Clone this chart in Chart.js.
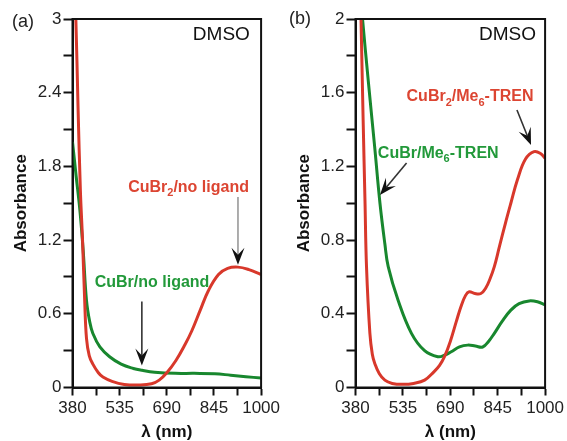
<!DOCTYPE html>
<html>
<head>
<meta charset="utf-8">
<script src="https://cdn.jsdelivr.net/npm/chart.js@4.4.1/dist/chart.umd.min.js"></script>
<style>
body { margin: 0; background: #fff; }
.panel { position: absolute; top: 0; height: 441px; }
#pa { left: 0; width: 283px; }
#pb { left: 283px; width: 284px; }
</style>
</head>
<body>
<div class="panel" id="pa"><canvas id="chartA"></canvas></div>
<div class="panel" id="pb"><canvas id="chartB"></canvas></div>
<script>
// tick labels
const xTicks = [380, 535, 690, 845, 1000];
const yTicksA = [0, 0.6, 1.2, 1.8, 2.4, 3];
const yTicksB = [0, 0.4, 0.8, 1.2, 1.6, 2];

// (a) no ligand
const redA_nm  = [384, 391, 398, 406, 413, 420, 426, 435, 447, 465, 480, 510, 550, 600, 640, 665, 690, 720, 750, 772, 800, 827, 860, 890, 924, 960, 1000];
const redA_abs = [3.4, 3.0, 2.3, 1.6, 1.2, 0.71, 0.40, 0.26, 0.19, 0.12, 0.085, 0.05, 0.025, 0.02, 0.03, 0.06, 0.12, 0.22, 0.35, 0.46, 0.63, 0.79, 0.92, 0.97, 0.98, 0.96, 0.92];
const greenA_nm  = [380, 392, 404, 415, 426, 437, 447, 470, 502, 540, 580, 609, 650, 718, 780, 848, 900, 950, 1000];
const greenA_abs = [2.0, 1.72, 1.45, 1.12, 0.71, 0.53, 0.44, 0.33, 0.25, 0.19, 0.155, 0.14, 0.125, 0.115, 0.115, 0.112, 0.10, 0.088, 0.077];

// (b) Me6-TREN
const redB_nm  = [394, 398, 405, 411, 416, 427, 435, 443, 458, 476, 500, 535, 570, 606, 637, 655, 671, 690, 710, 725, 740, 752, 770, 790, 806, 820, 834, 850, 870, 888, 910, 936, 964, 985, 1000];
const redB_abs = [2.3, 2.0, 1.45, 1.015, 0.656, 0.295, 0.18, 0.13, 0.075, 0.04, 0.022, 0.017, 0.022, 0.04, 0.086, 0.12, 0.167, 0.25, 0.36, 0.44, 0.50, 0.52, 0.51, 0.51, 0.54, 0.59, 0.656, 0.76, 0.89, 1.0, 1.13, 1.24, 1.28, 1.27, 1.244];
const greenB_nm  = [401, 403, 422, 443, 460, 476, 487, 519, 563, 606, 649, 671, 693, 720, 747, 772, 796, 815, 834, 860, 888, 915, 948, 975, 1000];
const greenB_abs = [2.05, 2.0, 1.66, 1.30, 1.0, 0.78, 0.656, 0.475, 0.294, 0.2, 0.167, 0.175, 0.194, 0.22, 0.23, 0.225, 0.22, 0.25, 0.294, 0.36, 0.42, 0.455, 0.47, 0.465, 0.448];

const RED = '#d8382b';
const GREEN = '#18872e';
const FONT = '"Liberation Sans", Arial, Helvetica, sans-serif';

function pts(xs, ys) {
    return xs.map((x, i) => ({ x: x, y: ys[i] }));
}

function labelIf(v, list) {
    const hit = list.find(t => Math.abs(t - v) < 1e-6);
    return hit === undefined ? '' : String(hit);
}

// text with "_x" subscripts
function drawNote(ctx, str, x, y, color, align) {
    const parts = [];
    for (let i = 0; i < str.length; i++) {
        if (str[i] === '_') { parts.push([str[i + 1], true]); i++; }
        else if (parts.length && !parts[parts.length - 1][1]) parts[parts.length - 1][0] += str[i];
        else parts.push([str[i], false]);
    }
    const big = 'bold 16px ' + FONT, small = 'bold 11px ' + FONT;
    let w = 0;
    parts.forEach(p => { ctx.font = p[1] ? small : big; w += ctx.measureText(p[0]).width; });
    let cx = align === 'right' ? x - w : x;
    ctx.fillStyle = color;
    ctx.textAlign = 'left';
    ctx.textBaseline = 'middle';
    parts.forEach(p => {
        ctx.font = p[1] ? small : big;
        ctx.fillText(p[0], cx, p[1] ? y + 6 : y);
        cx += ctx.measureText(p[0]).width;
    });
}

function drawArrow(ctx, x1, y1, x2, y2, lineColor) {
    const ang = Math.atan2(y2 - y1, x2 - x1);
    const L = 17, W = 6.5, N = 7;
    ctx.strokeStyle = lineColor;
    ctx.lineWidth = 1.6;
    ctx.beginPath();
    ctx.moveTo(x1, y1);
    ctx.lineTo(x2 - Math.cos(ang) * (L - N), y2 - Math.sin(ang) * (L - N));
    ctx.stroke();
    ctx.save();
    ctx.translate(x2, y2);
    ctx.rotate(ang);
    ctx.beginPath();
    ctx.moveTo(0, 0);
    ctx.lineTo(-L, -W);
    ctx.lineTo(-L + N, 0);
    ctx.lineTo(-L, W);
    ctx.closePath();
    ctx.fillStyle = '#111';
    ctx.fill();
    ctx.restore();
}

const panelDecor = {
    id: 'panelDecor',
    afterDraw(chart, args, opts) {
        const ctx = chart.ctx, a = chart.chartArea;
        const xs = chart.scales.x, ys = chart.scales.y;
        ctx.save();
        ctx.strokeStyle = '#111';
        ctx.lineWidth = 2;
        ctx.strokeRect(a.left, a.top, a.right - a.left, a.bottom - a.top);

        ctx.font = '18px ' + FONT;
        ctx.fillStyle = '#222';
        ctx.textAlign = 'left';
        ctx.textBaseline = 'middle';
        ctx.fillText(opts.letter, opts.letterX, opts.letterY);

        ctx.font = '19px ' + FONT;
        ctx.textAlign = 'right';
        ctx.fillStyle = '#111';
        ctx.fillText('DMSO', xs.getPixelForValue(opts.dmso[0]), ys.getPixelForValue(opts.dmso[1]));

        opts.arrows.forEach(r => {
            drawArrow(ctx, xs.getPixelForValue(r[0]), ys.getPixelForValue(r[1]),
                xs.getPixelForValue(r[2]), ys.getPixelForValue(r[3]), r[4]);
        });
        opts.notes.forEach(n => {
            drawNote(ctx, n.text, xs.getPixelForValue(n.x), ys.getPixelForValue(n.y), n.color, 'left');
        });
        ctx.restore();
    }
};

function makeChart(id, redData, greenData, yTicks, decor) {
    return new Chart(document.getElementById(id), {
        type: 'line',
        data: {
            datasets: [{
                label: 'red',
                data: redData,
                borderColor: RED,
                borderWidth: 3,
                pointRadius: 0,
                tension: 0.4,
            }, {
                label: 'green',
                data: greenData,
                borderColor: GREEN,
                borderWidth: 3,
                pointRadius: 0,
                tension: 0.4,
            }]
        },
        options: {
            responsive: true,
            maintainAspectRatio: false,
            animation: false,
            layout: { padding: { top: 19, right: 19.5, left: 0, bottom: 0 } },
            plugins: {
                legend: { display: false },
                tooltip: { enabled: false },
                panelDecor: decor
            },
            scales: {
                x: {
                    type: 'linear',
                    min: xTicks[0],
                    max: xTicks[xTicks.length - 1],
                    afterFit: s => { s.height = 53.5; },
                    border: { color: '#111', width: 2 },
                    grid: { drawOnChartArea: false, tickLength: 8, tickColor: '#111', tickWidth: 2 },
                    ticks: {
                        stepSize: (xTicks[1] - xTicks[0]) / 2,
                        autoSkip: false,
                        maxRotation: 0,
                        padding: 3,
                        color: '#222',
                        font: { size: 17, family: FONT },
                        callback: v => labelIf(v, xTicks)
                    },
                    title: {
                        display: true,
                        text: 'λ (nm)',
                        color: '#111',
                        font: { size: 17, weight: 'bold', family: FONT, lineHeight: 1 },
                        padding: { top: 0, bottom: 0 }
                    }
                },
                y: {
                    type: 'linear',
                    min: yTicks[0],
                    max: yTicks[yTicks.length - 1],
                    afterFit: s => { s.width = 72.5; },
                    border: { color: '#111', width: 2 },
                    grid: { drawOnChartArea: false, tickLength: 9, tickColor: '#111', tickWidth: 2 },
                    ticks: {
                        stepSize: (yTicks[1] - yTicks[0]) / 2,
                        autoSkip: false,
                        padding: 2,
                        color: '#222',
                        font: { size: 17, family: FONT },
                        callback: v => labelIf(v, yTicks)
                    },
                    title: {
                        display: true,
                        text: 'Absorbance',
                        color: '#111',
                        font: { size: 17, weight: 'bold', family: FONT, lineHeight: 1 },
                        padding: { top: 13, bottom: 0 }
                    }
                }
            }
        },
        plugins: [panelDecor]
    });
}

makeChart('chartA', pts(redA_nm, redA_abs), pts(greenA_nm, greenA_abs), yTicksA, {
    letter: '(a)', letterX: 12, letterY: 22,
    dmso: [963, 2.87],
    arrows: [[924, 1.55, 924, 1.0, '#999'], [608, 0.70, 608, 0.18, '#333']],
    notes: [
        { text: 'CuBr_2/no ligand', x: 563, y: 1.63, color: '#dc4532' },
        { text: 'CuBr/no ligand', x: 453, y: 0.85, color: '#22993a' }
    ]
});

makeChart('chartB', pts(redB_nm, redB_abs), pts(greenB_nm, greenB_abs), yTicksB, {
    letter: '(b)', letterX: 6, letterY: 19,
    dmso: [970, 1.913],
    arrows: [[908, 1.506, 954, 1.316, '#333'], [547, 1.218, 460, 1.045, '#333']],
    notes: [
        { text: 'CuBr_2/Me_6-TREN', x: 547, y: 1.577, color: '#dc4532' },
        { text: 'CuBr/Me_6-TREN', x: 453, y: 1.272, color: '#22993a' }
    ]
});
</script>
</body>
</html>
